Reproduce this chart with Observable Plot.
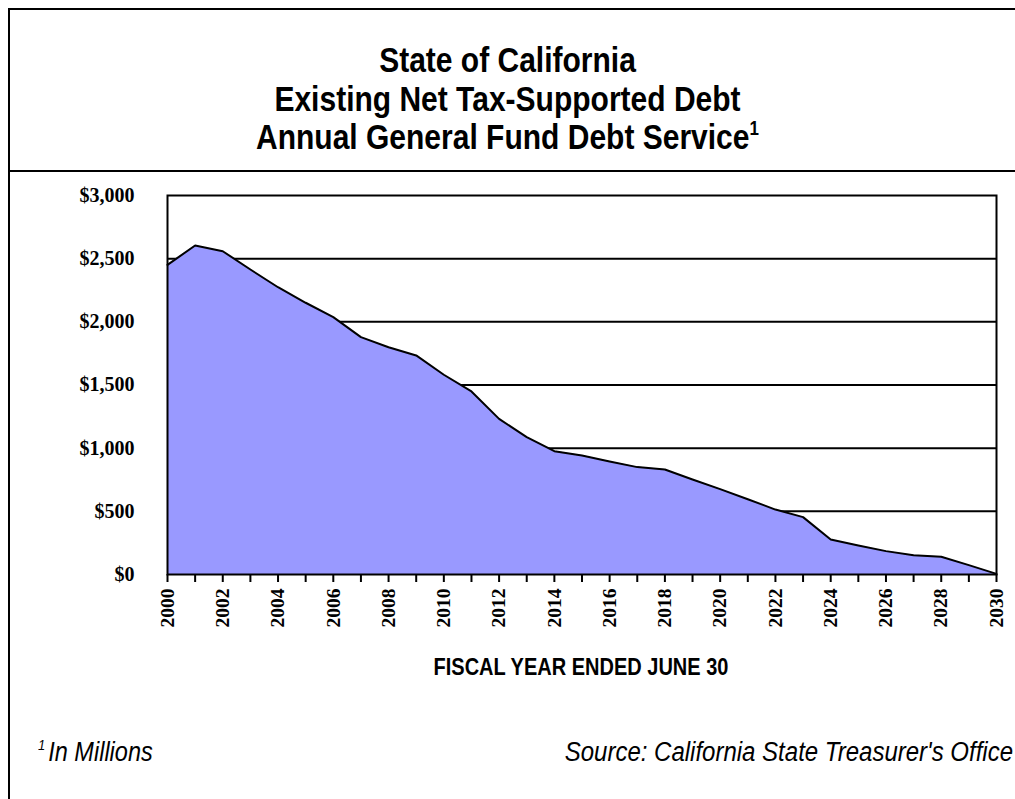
<!DOCTYPE html>
<html>
<head>
<meta charset="utf-8">
<script src="https://cdn.jsdelivr.net/npm/d3@7"></script>
<script src="https://cdn.jsdelivr.net/npm/@observablehq/plot@0.6"></script>
<style>
  html, body { margin: 0; padding: 0; background: #fff; }
  #page { position: relative; width: 1015px; height: 799px; overflow: hidden; font-family: "Liberation Sans", Arial, sans-serif; background: #fff; }
  #border { position: absolute; left: 8px; top: 8px; right: -10px; bottom: -10px; border-left: 2px solid #000; border-top: 2px solid #000; }
  #sep { position: absolute; left: 8px; right: 0; top: 170px; height: 2px; background: #000; }
  #title { position: absolute; left: 0; width: 1015px; top: 41px; text-align: center; font-weight: bold; font-size: 30px; line-height: 33.5px; color: #000; transform: scaleY(1.15); transform-origin: 50% 0; }
  #title sup { font-size: 17px; line-height: 0; vertical-align: 12px; }
  #chart { position: absolute; left: 0; top: 180px; }
  #xlabel { position: absolute; left: 331px; width: 500px; top: 656px; text-align: center; font-weight: bold; font-size: 20px; line-height: 22px; transform: scaleY(1.15); transform-origin: 50% 50%; }
  #note { position: absolute; left: 38px; top: 739px; font-style: italic; font-size: 23.5px; line-height: 26px; transform: scaleY(1.15); transform-origin: 0 50%; }
  #note sup { font-size: 13px; vertical-align: 10px; line-height: 0; margin-right: 3px; }
  #source { position: absolute; right: 2px; top: 739px; font-style: italic; font-size: 24px; line-height: 26px; white-space: nowrap; transform: scaleY(1.15); transform-origin: 100% 50%; }
</style>
</head>
<body>
<div id="page">
  <div id="border"></div>
  <div id="title">State of California<br>Existing Net Tax-Supported Debt<br>Annual General Fund Debt Service<sup>1</sup></div>
  <div id="sep"></div>
  <div id="chart"></div>
  <div id="xlabel">FISCAL YEAR ENDED JUNE 30</div>
  <div id="note"><sup>1</sup>In Millions</div>
  <div id="source">Source: California State Treasurer's Office</div>
</div>
<script>
const years = [2000,2001,2002,2003,2004,2005,2006,2007,2008,2009,2010,2011,2012,2013,2014,2015,2016,2017,2018,2019,2020,2021,2022,2023,2024,2025,2026,2027,2028,2029,2030];
const debtService = [2451,2604,2559,2414,2274,2151,2037,1879,1799,1734,1581,1449,1232,1087,976,942,894,850,831,752,676,596,514,454,277,230,185,153,140,74,5];
const yTicks = [0,500,1000,1500,2000,2500,3000];
const xLabelYears = [2000,2002,2004,2006,2008,2010,2012,2014,2016,2018,2020,2022,2024,2026,2028,2030];

const data = years.map((y, i) => ({year: y, value: debtService[i]}));

const chart = Plot.plot({
  width: 1015,
  height: 520,
  marginLeft: 167,
  marginRight: 19,
  marginTop: 15,
  marginBottom: 126,
  style: {background: "transparent", overflow: "visible"},
  x: {domain: [2000, 2030]},
  y: {domain: [0, 3000]},
  marks: [
    Plot.ruleY(yTicks.filter(d => d > 0 && d < 3000), {stroke: "black", strokeWidth: 2}),
    Plot.areaY(data, {x: "year", y: "value", fill: "#9999ff"}),
    Plot.lineY(data, {x: "year", y: "value", stroke: "black", strokeWidth: 2}),
    Plot.axisY({ticks: yTicks, tickSize: 0, tickPadding: 33, tickFormat: d => "$" + d3.format(",")(d),
      fontSize: 20, fontWeight: "bold", fontFamily: "Liberation Serif, Times New Roman, serif", fill: "black", label: null}),
    Plot.axisX({ticks: years, tickSize: 8, strokeWidth: 2, stroke: "black", tickFormat: () => "", label: null}),
    Plot.axisX({ticks: xLabelYears, tickSize: 0, tickPadding: 14, tickRotate: -90, tickFormat: d3.format("d"),
      fontSize: 19.5, fontWeight: "bold", fontFamily: "Liberation Serif, Times New Roman, serif", fill: "black", label: null}),
    Plot.frame({stroke: "black", strokeWidth: 2})
  ]
});
document.getElementById("chart").appendChild(chart);
</script>
</body>
</html>
